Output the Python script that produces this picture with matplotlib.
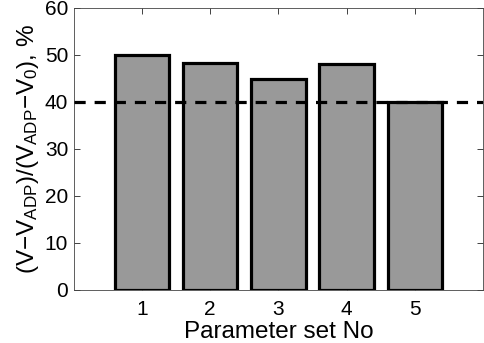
import matplotlib
matplotlib.use("Agg")
import matplotlib.pyplot as plt

plt.rcParams['font.family'] = ['Liberation Sans', 'DejaVu Sans']
plt.rcParams['mathtext.fontset'] = 'custom'
plt.rcParams['mathtext.rm'] = 'Liberation Sans'
plt.rcParams['mathtext.it'] = 'Liberation Sans'

# data
param_sets = [1, 2, 3, 4, 5]
values = [50.0, 48.2, 44.8, 48.0, 40.0]
threshold = 40

fig = plt.figure(figsize=(4.85, 3.43), dpi=100)
ax = fig.add_axes([0.152, 0.155, 0.844, 0.823])

ax.bar(param_sets, values, width=0.8, color="#999999", edgecolor="black", linewidth=2.3, zorder=2)
ax.plot([0, 6], [threshold, threshold], color="black", linestyle=(0, (3.5, 2.8)), linewidth=2.3, zorder=3)

ax.set_xlim(0, 6)
ax.set_ylim(0, 60)
ax.set_xticks(param_sets)
ax.set_yticks(range(0, 61, 10))
ax.tick_params(direction="in", top=True, right=True, labelsize=15, length=4, width=0.6,
               colors="#222222", labelcolor="black")
ax.tick_params(axis="x", pad=7)
ax.tick_params(axis="y", pad=4)
for s in ax.spines.values():
    s.set_linewidth(0.6)
    s.set_color("#444444")

ax.set_xlabel("Parameter set No", fontsize=17.5, labelpad=2)
ax.set_ylabel(r"(V$-$V$_{\rm ADP}$)/(V$_{\rm ADP}$$-$V$_0$), %", fontsize=17.5, labelpad=3)

fig.savefig("out.png", dpi=100)
